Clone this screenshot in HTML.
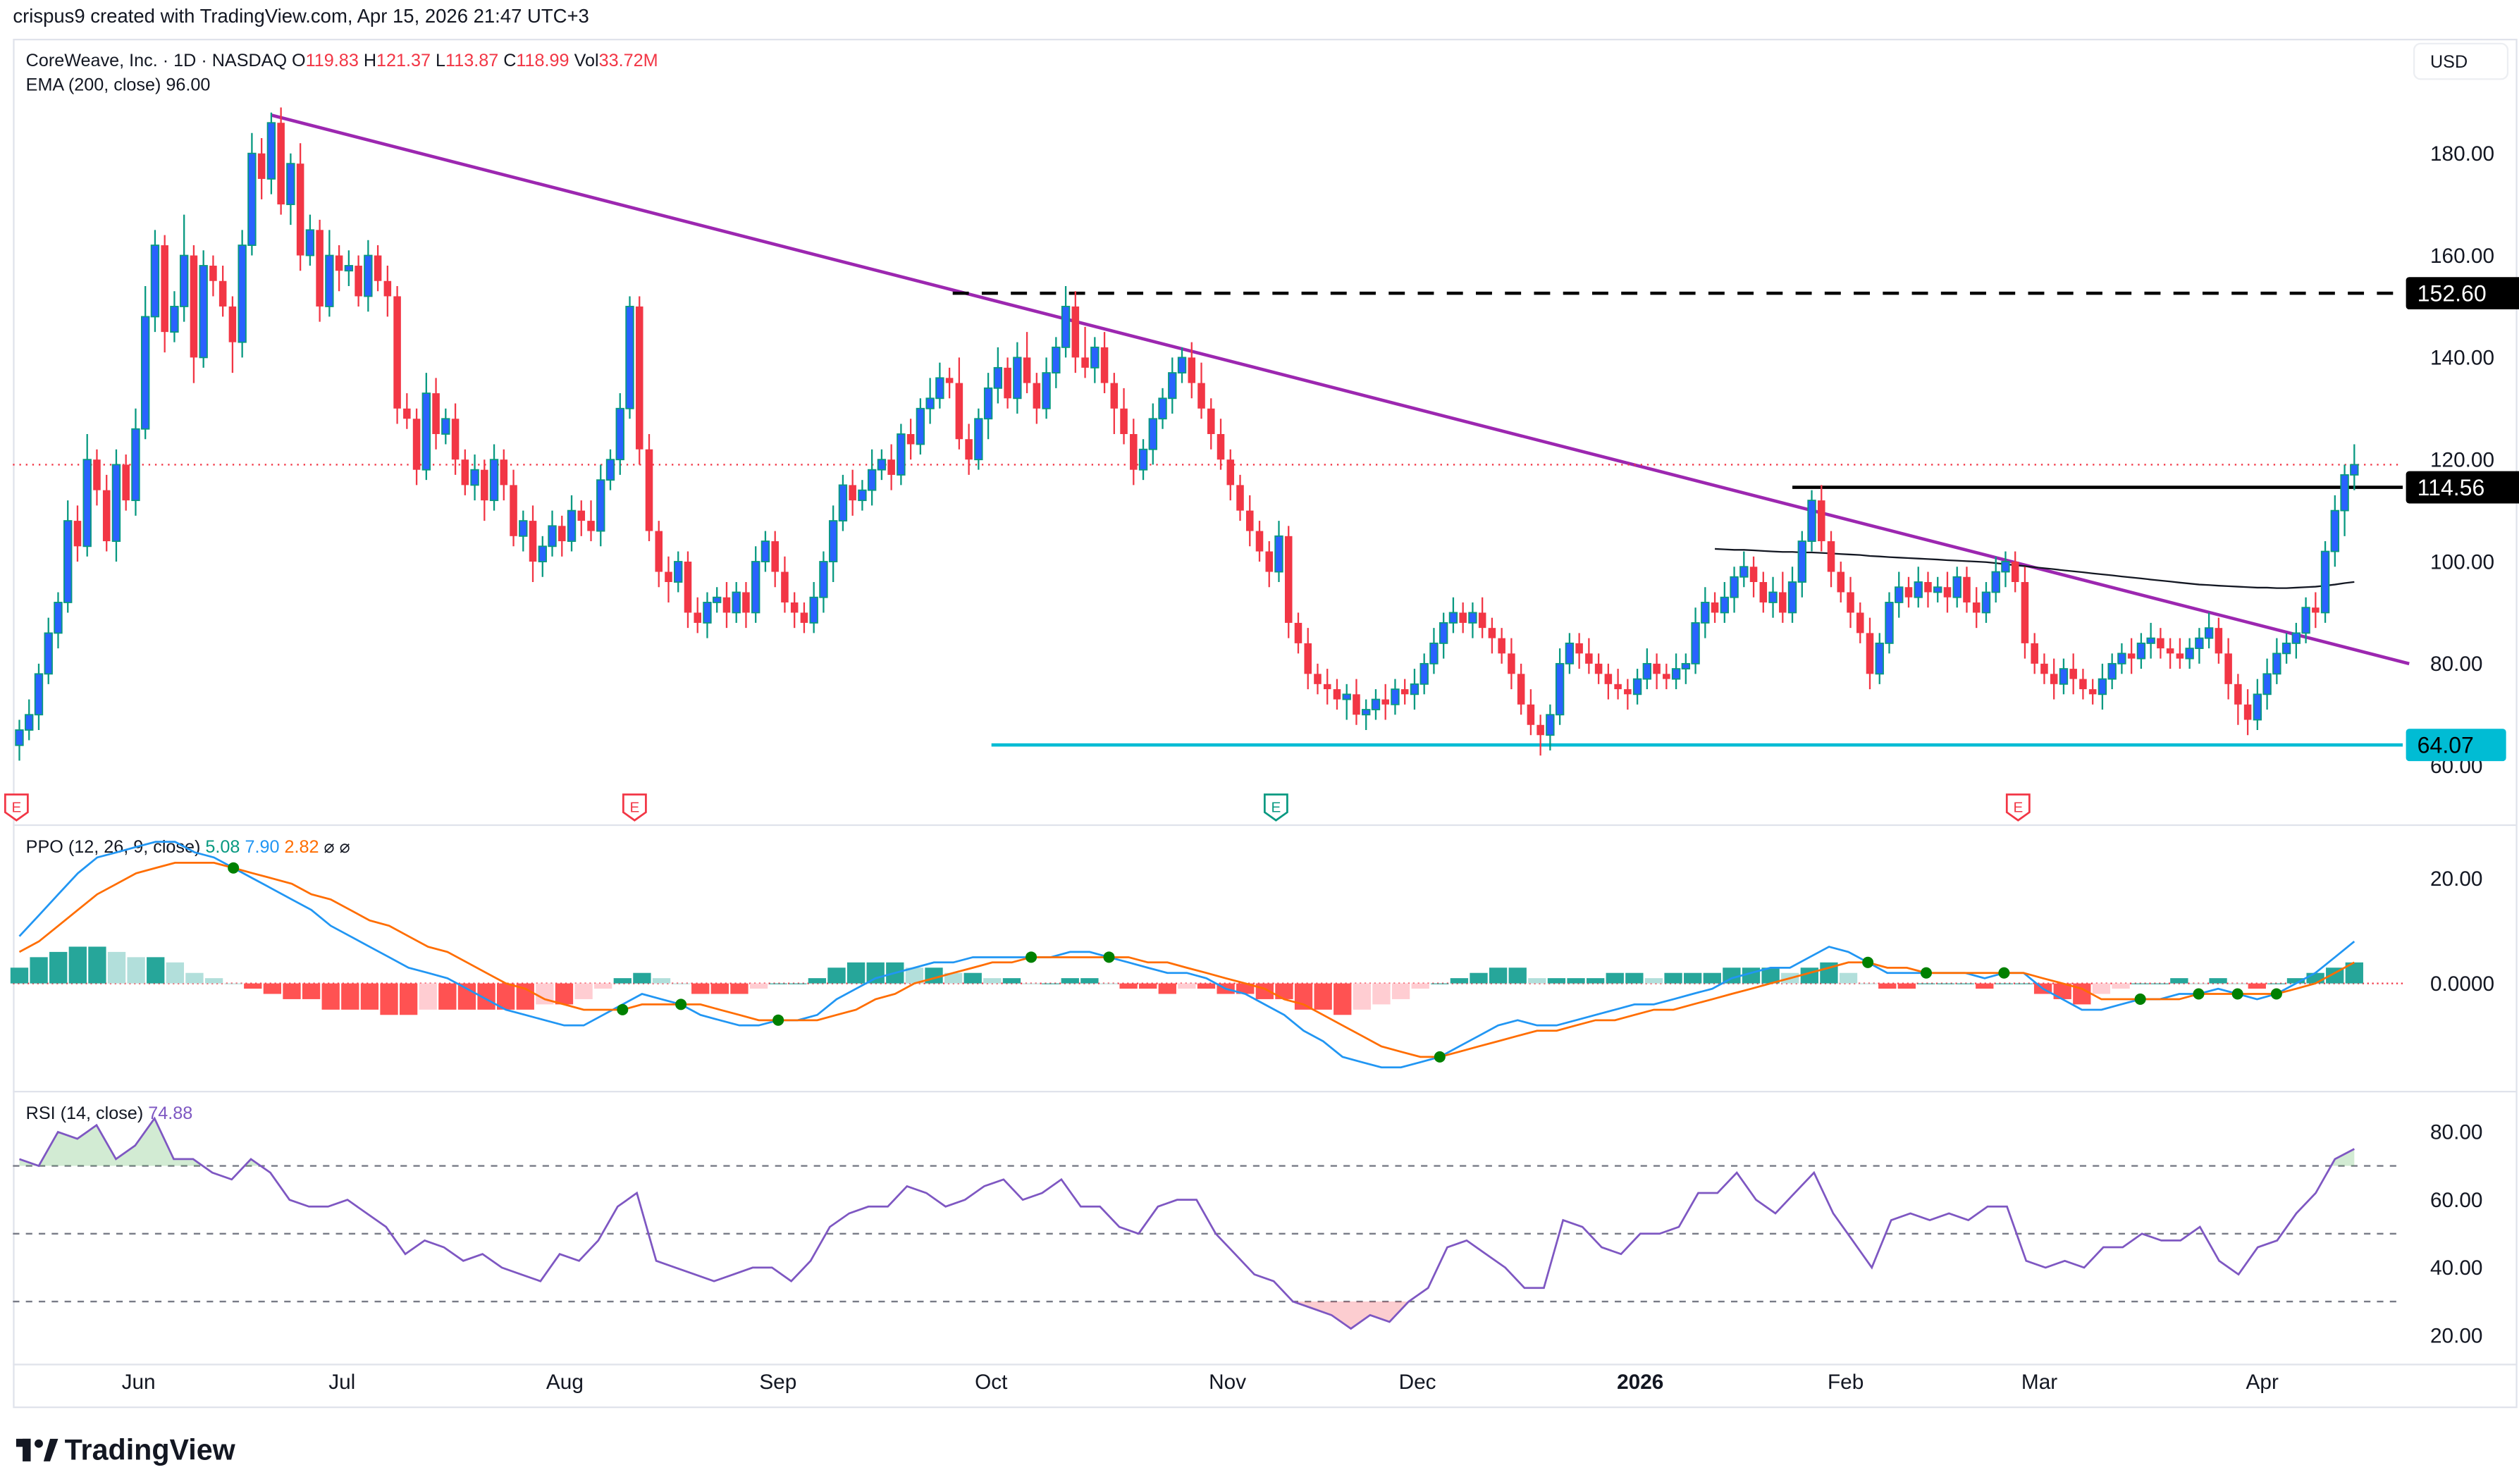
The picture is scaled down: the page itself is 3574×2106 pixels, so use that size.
<!DOCTYPE html>
<html><head><meta charset="utf-8"><style>
html,body{margin:0;padding:0;background:#fff;}
svg{display:block;font-family:"Liberation Sans",sans-serif;}
</style></head><body>
<svg id="chart" width="3574" height="2106" viewBox="0 0 1560 919" preserveAspectRatio="none" xmlns="http://www.w3.org/2000/svg">
<rect x="0" y="0" width="1560" height="919" fill="#fff"/>
<text x="8" y="14" font-size="12" fill="#131722">crispus9 created with TradingView.com, Apr 15, 2026 21:47 UTC+3</text>
<rect x="8.5" y="24.5" width="1550" height="847" fill="none" stroke="#e0e3eb"/>
<line x1="8" y1="511" x2="1558" y2="511" stroke="#e0e3eb"/>
<line x1="8" y1="676" x2="1558" y2="676" stroke="#e0e3eb"/>
<line x1="8" y1="845" x2="1558" y2="845" stroke="#e0e3eb"/>
<rect x="1495" y="27" width="58" height="22" rx="4" fill="#fff" stroke="#eceef2"/>
<text x="1505" y="42" font-size="11" fill="#131722">USD</text>
<g id="legend" font-size="11">
<text x="16" y="41" fill="#131722">CoreWeave, Inc. · 1D · NASDAQ  O<tspan fill="#f23645">119.83</tspan>  H<tspan fill="#f23645">121.37</tspan>  L<tspan fill="#f23645">113.87</tspan>  C<tspan fill="#f23645">118.99</tspan>  Vol<tspan fill="#f23645">33.72M</tspan></text>
<text x="16" y="56" fill="#131722">EMA (200, close)  96.00</text>
<text x="16" y="528" fill="#131722">PPO (12, 26, 9, close)  <tspan fill="#089981">5.08</tspan>  <tspan fill="#2196f3">7.90</tspan>  <tspan fill="#ff6d00">2.82</tspan>  ⌀  ⌀</text>
<text x="16" y="693" fill="#131722">RSI (14, close)  <tspan fill="#7e57c2">74.88</tspan></text>
</g>
<g id="axes"></g>
<g id="price"></g>
<g id="ppo"></g>
<g id="rsi"></g>
<g>
<rect x="10" y="891" width="9" height="5" fill="#131722"/><rect x="14" y="891" width="5" height="14" fill="#131722"/>
<circle cx="24" cy="894" r="2.6" fill="#131722"/><polygon points="27,905 31,891 36,891 31,905" fill="#131722"/>
<text x="40" y="904" font-size="18" font-weight="bold" fill="#131722">TradingView</text>
</g>
</svg>
<script>
const closes=[67,70,78,86,92,108,103,120,114,104,119,112,126,148,162,
145,150,160,140,158,155,150,143,162,180,175,
186,170,178,160,165,150,160,157,158,152,160,
155,152,130,128,118,133,125,128,120,115,118,112,120,115,
105,108,100,103,107,104,110,108,106,116,120,130,150,
122,106,98,96,100,90,88,92,93,90,94,90,100,104,98,92,90,88,93,100,
108,115,112,114,118,120,117,125,123,130,132,136,135,124,120,128,134,138,132,140,135,130,137,142,150,
140,138,142,135,130,125,118,122,128,132,137,140,135,130,125,120,115,110,106,102,
98,105,88,84,78,76,75,73,74,70,71,73,72,75,74,76,80,84,88,90,88,90,87,85,82,78,72,68,66,70,80,84,82,80,78,76,75,74,77,80,78,77,79,80,88,92,90,93,97,99,96,92,94,90,96,104,112,104,98,94,90,86,78,84,92,95,93,96,94,95,93,97,92,90,94,98,100,96,84,80,78,76,79,77,75,74,77,80,82,81,84,85,83,82,81,83,85,87,82,76,72,69,74,78,82,84,86,91,90,102,110,117,119];
const opens=[64,67,70,78,86,92,108,103,120,114,104,119,112,126,148,
162,145,150,160,140,158,155,150,143,162,180,
175,186,170,178,160,165,150,160,157,158,152,
160,155,152,130,128,118,133,125,128,120,115,118,112,120,
115,105,108,100,103,107,104,110,108,106,116,120,130,
150,122,106,98,96,100,90,88,92,93,90,94,90,100,104,98,92,90,88,93,
100,108,115,112,114,118,120,117,125,123,130,132,136,135,124,120,128,134,138,132,140,135,130,137,142,
150,140,138,142,135,130,125,118,122,128,132,137,140,135,130,125,120,115,110,106,
102,98,105,88,84,78,76,75,73,74,70,71,73,72,75,74,76,80,84,88,90,88,90,87,85,82,78,72,68,66,70,80,84,82,80,78,76,75,74,77,80,78,77,79,80,88,92,90,93,97,99,96,92,94,90,96,104,112,104,98,94,90,86,78,84,92,95,93,96,94,95,93,97,92,90,94,98,100,96,84,80,78,76,79,77,75,74,77,80,82,81,84,85,83,82,81,83,85,87,82,76,72,69,74,78,82,84,86,91,90,102,110,117,119.8];
const wickUp=[2,3,2,3,2,4,3,5,2,3,3,2,4,6,3,2,3,8,2,3,2,3,2,3,4,3,2,3,2,4,3,2,5,2,3,2,3,2,3,2,3,2,4,3,2,3,2,3,2,3,2,3,2,3,2,3,2,3,2,4,3,2,3,2,2,3,2,3,2,2,3,2,2,3,2,2,3,2,2,3,2,2,3,2,3,2,3,2,4,2,3,2,3,2,4,3,2,5,3,2,3,4,2,3,5,2,3,2,4,3,6,2,3,2,4,3,2,3,2,3,2,3,4,2,3,2,2,3,2,2,3,2,2,3,2,3,2,2,3,2,2,3,2,2,3,2,3,2,3,2,2,3,2,2,3,2,3,2,2,3,2,2,3,2,2,3,2,2,3,2,2,3,2,3,3,2,3,2,3,2,2,3,4,3,2,2,3,2,2,3,2,3,2,2,3,2,3,2,2,3,2,2,3,2,3,2,2,3,2,2,3,2,3,2,2,3,2,2,3,2,3,2,2,3,2,2,3,2,3,2,3,3,3,3,2,2];
const wickDn=[3,2,3,2,3,2,3,2,3,2,4,2,3,2,3,4,2,3,5,2,3,2,6,3,2,4,3,2,4,3,2,3,2,4,3,2,3,2,4,3,2,3,2,3,2,3,2,3,4,2,3,2,3,4,3,2,3,2,3,2,3,2,3,2,3,2,3,4,2,3,2,3,2,3,2,3,2,2,3,2,3,2,2,3,4,2,3,2,3,2,3,2,3,2,3,2,3,2,3,2,4,3,2,3,2,3,2,3,2,3,2,3,2,5,2,3,2,3,2,3,2,3,2,3,2,3,2,3,2,3,2,3,2,3,2,3,2,4,2,3,2,3,2,2,3,2,2,3,2,2,3,2,3,2,3,2,2,4,3,2,2,3,2,2,3,2,3,2,2,3,2,2,3,2,3,2,2,3,2,3,2,3,2,2,3,2,2,3,2,3,2,3,2,2,3,2,2,3,2,3,2,2,3,2,2,3,2,3,2,2,3,2,3,2,2,3,2,2,3,2,3,2,3,2,2,3,2,2,3,4,3,2,3,2,2,3,2,3,2,3,5];
const emaStart=175;
const emaVals=[102.5,102.4,102.3,102.3,102.2,102.1,102,101.9,101.9,101.8,101.8,101.7,101.6,101.5,101.4,101.3,101.1,101,100.9,100.8,100.7,100.6,100.5,100.4,100.3,100.2,100.1,100,99.9,99.7,99.5,99.3,99.1,98.9,98.7,98.5,98.3,98.1,97.9,97.7,97.5,97.3,97.1,96.9,96.7,96.5,96.3,96.1,95.9,95.7,95.5,95.4,95.3,95.2,95.1,95,94.9,94.9,94.8,94.8,94.9,95,95.1,95.3,95.5,95.8,96];
const priceTicks=[180,160,140,120,100,80,60];
const levels=[152.60,114.56,64.07];
const timeLabels=["Jun","Jul","Aug","Sep","Oct","Nov","Dec","2026","Feb","Mar","Apr"];
const timeIdx=[12.3,33.3,56.3,78.3,100.3,124.7,144.3,167.3,188.5,208.5,231.5];
const earningsIdx=[-0.3,63.5,129.7,206.3];
const ppoVals=[9,13,17,21,24,25,26,27,27,25,24,22,20,18,16,14,11,9,7,5,3,2,1,-1,-3,-5,-6,-7,-8,-8,-6,-4,-2,-3,-4,-6,-7,-8,-8,-7,-7,-6,-3,-1,1,2,3,4,4,5,5,5,5,5,6,6,5,4,3,2,2,1,-1,-2,-4,-6,-9,-11,-14,-15,-16,-16,-15,-14,-12,-10,-8,-7,-8,-8,-7,-6,-5,-4,-4,-3,-2,-1,1,2,3,3,5,7,6,4,2,2,2,2,2,1,2,2,-1,-3,-5,-5,-4,-3,-3,-2,-2,-1,-2,-3,-2,0,2,5,8];
const signalVals=[6,8,11,14,17,19,21,22,23,23,23,22,21,20,19,17,16,14,12,11,9,7,6,4,2,0,-1,-3,-4,-5,-5,-5,-4,-4,-4,-4,-5,-6,-7,-7,-7,-7,-6,-5,-3,-2,0,1,2,3,4,4,5,5,5,5,5,5,4,4,3,2,1,0,-1,-3,-4,-6,-8,-10,-12,-13,-14,-14,-13,-12,-11,-10,-9,-9,-8,-7,-7,-6,-5,-5,-4,-3,-2,-1,0,1,2,3,4,4,3,3,2,2,2,2,2,2,1,0,-1,-3,-3,-3,-3,-3,-2,-2,-2,-2,-2,-1,0,2,4];
const ppoTicks=[20,0];
const rsiVals=[72,70,80,78,82,72,76,84,72,72,68,66,72,68,60,58,58,60,56,52,44,48,46,42,44,40,38,36,44,42,48,58,62,42,40,38,36,38,40,40,36,42,52,56,58,58,64,62,58,60,64,66,60,62,66,58,58,52,50,58,60,60,50,44,38,36,30,28,26,22,26,24,30,34,46,48,44,40,34,34,54,52,46,44,50,50,52,62,62,68,60,56,62,68,56,48,40,54,56,54,56,54,58,58,42,40,42,40,46,46,50,48,48,52,42,38,46,48,56,62,72,75];
const rsiTicks=[80,60,40,20];
const rsiBands=[70,50,30];

const NS="http://www.w3.org/2000/svg";
function mk(parent,tag,attrs){const e=document.createElementNS(NS,tag);for(const k in attrs)e.setAttribute(k,attrs[k]);parent.appendChild(e);return e;}
const X0=12,X1=1458,PLOT_R=1488;
const step=(X1-X0)/(closes.length-1);
const xi=i=>X0+i*step;
const py=p=>95+(180-p)*(63.2/20);
const ppy=v=>609-v*3.25;
const ry=v=>701+(80-v)*2.1;
const axes=document.getElementById('axes'),gp=document.getElementById('price'),gppo=document.getElementById('ppo'),grsi=document.getElementById('rsi');

// price ticks
priceTicks.forEach(t=>{const e=mk(axes,'text',{x:1505,y:py(t)+4.5,'font-size':13,fill:'#131722'});e.textContent=t.toFixed(2);

});
ppoTicks.forEach(t=>{const e=mk(axes,'text',{x:1505,y:ppy(t)+4.5,'font-size':13,fill:'#131722'});e.textContent=(t===0?'0.0000':t.toFixed(2));

});
rsiTicks.forEach(t=>{const e=mk(axes,'text',{x:1505,y:ry(t)+4.5,'font-size':13,fill:'#131722'});e.textContent=t.toFixed(2);

});
timeLabels.forEach((t,k)=>{const e=mk(axes,'text',{x:xi(timeIdx[k]),y:860,'font-size':13,fill:'#131722','text-anchor':'middle','font-weight':t==='2026'?'bold':'normal'});e.textContent=t;

});

// trendline from peak
const tl=mk(gp,'line',{x1:xi(26),y1:py(187.5),x2:1492,y2:py(80),stroke:'#9c27b0','stroke-width':2});


// current price dotted
const cp=mk(gp,'line',{x1:8,y1:py(closes[closes.length-1]),x2:PLOT_R,y2:py(closes[closes.length-1]),stroke:'#f23645','stroke-width':1,'stroke-dasharray':'1 3'});


// levels
const lvStart=[590,1110,614],lvCol=['#000','#000','#00bcd4'],lvDash=['10 8','',''];
const lvNames=['resistance-152-line','resistance-114-line','support-64-line'];
levels.forEach((l,k)=>{const a={x1:lvStart[k],y1:py(l),x2:PLOT_R,y2:py(l),stroke:lvCol[k],'stroke-width':2};if(lvDash[k])a['stroke-dasharray']=lvDash[k];
const ln=mk(gp,'line',a);


const w=k===2?62:72;
const bx=mk(axes,'rect',{x:1490,y:py(l)-10,width:w,height:20,rx:2,fill:lvCol[k]});


const tx=mk(axes,'text',{x:1497,y:py(l)+5,'font-size':14,fill:'#000','font-weight':'normal'});tx.setAttribute('fill',k===2?'#000':'#fff');tx.textContent=l.toFixed(2);

});
// EMA
let pts=emaVals.map((v,k)=>xi(emaStart+k).toFixed(1)+','+py(v).toFixed(1)).join(' ');
const ema=mk(gp,'polyline',{points:pts,fill:'none',stroke:'#131722','stroke-width':1});


// candles
closes.forEach((c,i)=>{const o=opens[i];const up=c>=o;const hi=Math.max(o,c)+wickUp[i%wickUp.length];const lo=Math.min(o,c)-wickDn[i%wickDn.length];
const x=xi(i);const g=mk(gp,'g',{});


mk(g,'line',{x1:x,y1:py(hi),x2:x,y2:py(lo),stroke:up?'#089981':'#f23645','stroke-width':1});
const top=py(Math.max(o,c)),h=Math.max(1.2,py(Math.min(o,c))-top);
mk(g,'rect',{x:x-2.3,y:top,width:4.6,height:h,fill:up?'#2962ff':'#f23645',stroke:up?'#089981':'none','stroke-width':up?0.8:0});});
// earnings markers
earningsIdx.forEach((k,j)=>{const x=xi(k),col=j===2?'#089981':'#f23645';
const g=mk(gp,'g',{});


mk(g,'path',{d:`M${x-7} 492 H${x+7} V503 L${x} 508 L${x-7} 503 Z`,fill:'#fff',stroke:col,'stroke-width':1.2});
const t=mk(g,'text',{x:x,y:503,'font-size':9,'text-anchor':'middle',fill:col});t.textContent='E';});

// PPO
const pstep=(X1-X0)/(ppoVals.length-1);const px=k=>X0+k*pstep;
mk(gppo,'line',{x1:8,y1:ppy(0),x2:PLOT_R,y2:ppy(0),stroke:'#f23645','stroke-width':1,'stroke-dasharray':'1 2'});
ppoVals.forEach((v,k)=>{const h=v-signalVals[k];const prev=k>0?ppoVals[k-1]-signalVals[k-1]:h;
let col=h>=0?(h>=prev?'#26a69a':'#b2dfdb'):(h<=prev?'#ff5252':'#ffcdd2');
const y0=ppy(0),y1=ppy(h);
const b=mk(gppo,'rect',{x:px(k)-pstep/2+0.5,y:Math.min(y0,y1),width:pstep-1,height:Math.max(0.5,Math.abs(y1-y0)),fill:col});

});
const pl=mk(gppo,'polyline',{points:ppoVals.map((v,k)=>px(k).toFixed(1)+','+ppy(v).toFixed(1)).join(' '),fill:'none',stroke:'#2196f3','stroke-width':1.2});


const sl=mk(gppo,'polyline',{points:signalVals.map((v,k)=>px(k).toFixed(1)+','+ppy(v).toFixed(1)).join(' '),fill:'none',stroke:'#ff6d00','stroke-width':1.2});


for(let k=1;k<ppoVals.length;k++){const a=ppoVals[k-1]-signalVals[k-1],b=ppoVals[k]-signalVals[k];
if((a<0&&b>=0)||(a>0&&b<=0)){const d=mk(gppo,'circle',{cx:px(k),cy:ppy(signalVals[k]),r:3.5,fill:b>=0?'#008000':'#ff0000'});

}}

// RSI
const rstep=(X1-X0)/(rsiVals.length-1);const rx=k=>X0+k*rstep;
rsiBands.forEach(b=>{const l=mk(grsi,'line',{x1:8,y1:ry(b),x2:PLOT_R,y2:ry(b),stroke:'#787b86','stroke-width':1,'stroke-dasharray':'4 4'});

});
const rpts=rsiVals.map((v,k)=>rx(k).toFixed(1)+','+ry(v).toFixed(1)).join(' ');
const defs=mk(grsi,'defs',{});
const c1=mk(defs,'clipPath',{id:'ob'});mk(c1,'rect',{x:0,y:0,width:1560,height:ry(70)});
const c2=mk(defs,'clipPath',{id:'os'});mk(c2,'rect',{x:0,y:ry(30),width:1560,height:300});
mk(grsi,'polygon',{points:X0+','+ry(70)+' '+rpts+' '+X1+','+ry(70),fill:'rgba(76,175,80,0.25)','clip-path':'url(#ob)'});
mk(grsi,'polygon',{points:X0+','+ry(30)+' '+rpts+' '+X1+','+ry(30),fill:'rgba(242,54,69,0.25)','clip-path':'url(#os)'});
const rl=mk(grsi,'polyline',{points:rpts,fill:'none',stroke:'#7e57c2','stroke-width':1.2});


</script>
</body></html>
